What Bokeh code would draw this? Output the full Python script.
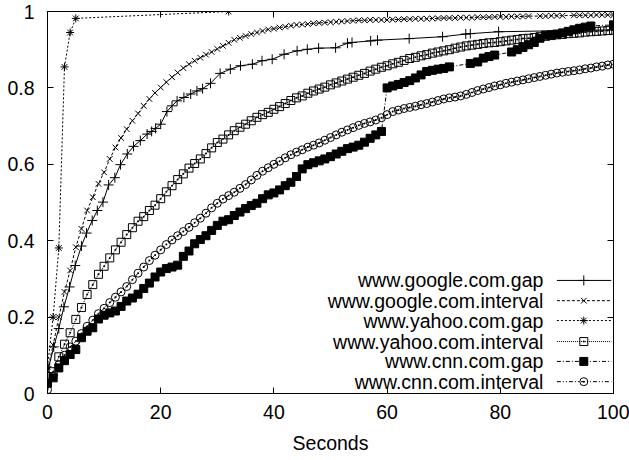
from bokeh.plotting import figure
from bokeh.models import Range1d, FixedTicker, LinearAxis
from bokeh.embed import file_html
from bokeh.resources import INLINE
from bokeh.core.properties import value

# ---------------- data ----------------
x_ticks = [0, 20, 40, 60, 80, 100]
x_tick_labels = ["0", "20", "40", "60", "80", "100"]
y_ticks = [0, 0.2, 0.4, 0.6, 0.8, 1]
y_tick_labels = ["0", "0.2", "0.4", "0.6", "0.8", "1"]
x_label = "Seconds"

series_names = ["www.google.com.gap", "www.google.com.interval", "www.yahoo.com.gap",
                "www.yahoo.com.interval", "www.cnn.com.gap", "www.cnn.com.interval"]

google_gap_x = [0, 1.1, 2, 2.9, 3.9, 4.9, 6, 6.9, 7.9, 8.8,
                9.8, 10.8, 11.9, 12.9, 14.1, 15.2, 16.4, 17.6, 18.4, 19.1,
                20, 21.1, 22, 22.9, 24.1, 25.3, 26.4, 27.4, 28.8, 30.5,
                32.3, 34.1, 36.2, 37.9, 39.7, 41.8, 44.1, 45.9, 47.9, 50.9,
                53, 53.8, 57.1, 58.3, 63.9, 69.8, 73.9, 74.7, 79.7, 100]
google_gap_y = [0.055, 0.122, 0.170, 0.227, 0.279, 0.335, 0.386, 0.420, 0.453, 0.479,
                0.501, 0.546, 0.565, 0.599, 0.627, 0.647, 0.662, 0.679, 0.686, 0.694,
                0.705, 0.738, 0.753, 0.766, 0.775, 0.784, 0.792, 0.798, 0.812, 0.838,
                0.849, 0.858, 0.862, 0.871, 0.875, 0.888, 0.897, 0.901, 0.904, 0.905,
                0.917, 0.919, 0.923, 0.925, 0.929, 0.934, 0.941, 0.942, 0.947, 0.952]

google_interval_x = [s for s in range(101) if s not in (86, 92)]
google_interval_y = [0.061, 0.127, 0.200, 0.266, 0.322, 0.383, 0.431, 0.479, 0.514, 0.549,
                     0.579, 0.614, 0.644, 0.669, 0.692, 0.714, 0.733, 0.753, 0.771, 0.787,
                     0.801, 0.815, 0.828, 0.840, 0.852, 0.862, 0.871, 0.879, 0.887, 0.894,
                     0.902, 0.910, 0.918, 0.926, 0.931, 0.936, 0.941, 0.945, 0.949, 0.953,
                     0.955, 0.958, 0.960, 0.963, 0.965, 0.966, 0.967, 0.969, 0.970, 0.971,
                     0.972, 0.973, 0.974, 0.975, 0.976, 0.977, 0.977, 0.978, 0.978, 0.978,
                     0.978, 0.979, 0.979, 0.980, 0.980, 0.981, 0.981, 0.981, 0.982, 0.982,
                     0.983, 0.983, 0.983, 0.984, 0.984, 0.984, 0.985, 0.985, 0.985, 0.986,
                     0.986, 0.986, 0.987, 0.987, 0.987, 0.988, 0.988, 0.988, 0.989,
                     0.989, 0.989, 0.990, 0.990, 0.990, 0.990, 0.991, 0.991, 0.991, 0.991]

yahoo_gap_x = [0, 1, 2, 3, 4, 5, 32]
yahoo_gap_y = [0.070, 0.200, 0.381, 0.855, 0.945, 0.982, 1.0]

yahoo_interval_x = list(range(101))
yahoo_interval_y = [0.030, 0.057, 0.096, 0.129, 0.159, 0.194, 0.225, 0.259, 0.285, 0.312,
                    0.333, 0.355, 0.376, 0.396, 0.416, 0.434, 0.451, 0.463, 0.479, 0.493,
                    0.510, 0.528, 0.544, 0.560, 0.575, 0.590, 0.602, 0.614, 0.628, 0.643,
                    0.657, 0.666, 0.677, 0.688, 0.697, 0.705, 0.714, 0.723, 0.730, 0.736,
                    0.744, 0.751, 0.759, 0.767, 0.774, 0.779, 0.786, 0.792, 0.797, 0.802,
                    0.808, 0.813, 0.818, 0.823, 0.828, 0.833, 0.838, 0.844, 0.849, 0.854,
                    0.858, 0.863, 0.867, 0.872, 0.877, 0.880, 0.884, 0.887, 0.891, 0.894,
                    0.897, 0.900, 0.904, 0.907, 0.910, 0.912, 0.914, 0.916, 0.918, 0.919,
                    0.921, 0.923, 0.925, 0.927, 0.929, 0.930, 0.932, 0.934, 0.935, 0.937,
                    0.939, 0.940, 0.942, 0.943, 0.944, 0.946, 0.947, 0.948, 0.949, 0.950,
                    0.951]

cnn_gap_x = [0, 1, 2, 3, 4, 5, 6, 7, 8, 9,
             10, 11, 12, 13, 14, 15, 16, 17, 18, 19,
             20, 21, 22, 23, 24, 25, 26, 27, 28, 29,
             30, 31, 32, 33, 34, 35, 36, 37, 38, 39,
             40, 41, 42, 43, 44, 45, 46, 47, 48, 49,
             50, 51, 52, 53, 54, 55, 56, 57, 58, 59,
             60, 61, 62, 63, 64, 65, 66, 67, 68, 69,
             70, 71, 74.7, 76, 77, 78, 79, 82, 83, 84,
             85, 86, 87, 88, 89, 90, 91, 92, 93, 94,
             95, 96, 100]
cnn_gap_y = [0.027, 0.041, 0.067, 0.086, 0.102, 0.115, 0.146, 0.163, 0.172, 0.195,
             0.205, 0.211, 0.216, 0.228, 0.242, 0.250, 0.260, 0.275, 0.289, 0.305,
             0.318, 0.327, 0.331, 0.336, 0.359, 0.373, 0.392, 0.403, 0.413, 0.427,
             0.440, 0.451, 0.455, 0.466, 0.475, 0.484, 0.492, 0.498, 0.510, 0.520,
             0.525, 0.533, 0.544, 0.553, 0.568, 0.588, 0.599, 0.604, 0.609, 0.614,
             0.620, 0.627, 0.634, 0.641, 0.645, 0.650, 0.658, 0.668, 0.677, 0.686,
             0.800, 0.805, 0.809, 0.814, 0.819, 0.826, 0.834, 0.843, 0.846, 0.849,
             0.851, 0.855, 0.864, 0.868, 0.878, 0.882, 0.886, 0.894, 0.900, 0.906,
             0.913, 0.919, 0.930, 0.938, 0.939, 0.941, 0.944, 0.948, 0.952, 0.956,
             0.959, 0.962, 0.965]

cnn_interval_x = list(range(101))
cnn_interval_y = [0.010, 0.045, 0.075, 0.100, 0.122, 0.137, 0.157, 0.176, 0.192, 0.209,
                  0.223, 0.238, 0.252, 0.266, 0.280, 0.298, 0.315, 0.331, 0.348, 0.362,
                  0.376, 0.390, 0.402, 0.413, 0.424, 0.435, 0.447, 0.459, 0.472, 0.486,
                  0.498, 0.509, 0.518, 0.527, 0.537, 0.547, 0.559, 0.571, 0.582, 0.591,
                  0.600, 0.608, 0.617, 0.625, 0.632, 0.638, 0.645, 0.650, 0.656, 0.663,
                  0.670, 0.677, 0.684, 0.690, 0.696, 0.702, 0.707, 0.711, 0.716, 0.722,
                  0.730, 0.738, 0.742, 0.746, 0.749, 0.752, 0.756, 0.759, 0.763, 0.767,
                  0.771, 0.774, 0.776, 0.779, 0.783, 0.788, 0.793, 0.797, 0.801, 0.805,
                  0.808, 0.812, 0.815, 0.818, 0.821, 0.824, 0.827, 0.830, 0.833, 0.836,
                  0.839, 0.841, 0.843, 0.845, 0.847, 0.850, 0.852, 0.855, 0.857, 0.860,
                  0.862]

# ---------------- styling ----------------
FONT = "Liberation Sans"
FS = "19.5px"

styles = [
    dict(dash="solid", marker="cross", size=10, fill=None),
    dict(dash="3 2", marker="x", size=8, fill=None),
    dict(dash="2 2", marker="asterisk", size=8, fill=None),
    dict(dash="1 1", marker="square_dot", size=8, fill=None),
    dict(dash="4 2 1 2", marker="square", size=8, fill="black"),
    dict(dash="4 2 1 2 1 2", marker="circle_dot", size=8, fill=None),
]
data = [(google_gap_x, google_gap_y), (google_interval_x, google_interval_y),
        (yahoo_gap_x, yahoo_gap_y), (yahoo_interval_x, yahoo_interval_y),
        (cnn_gap_x, cnn_gap_y), (cnn_interval_x, cnn_interval_y)]

p = figure(width=629, height=460, output_backend="svg", toolbar_location=None,
           x_range=Range1d(0, 100), y_range=Range1d(0, 1),
           min_border_left=47, min_border_right=16, min_border_top=11, min_border_bottom=67)
p.xgrid.grid_line_color = None
p.ygrid.grid_line_color = None
p.outline_line_color = "black"
p.outline_line_width = 1
p.background_fill_color = "white"
p.border_fill_color = "white"

p.add_layout(LinearAxis(), "above")
p.add_layout(LinearAxis(), "right")

for ax in p.xaxis:
    ax.ticker = FixedTicker(ticks=x_ticks)
    ax.major_label_overrides = dict(zip(x_ticks, x_tick_labels))
for ax in p.yaxis:
    ax.ticker = FixedTicker(ticks=y_ticks)
    ax.major_label_overrides = dict(zip(y_ticks, y_tick_labels))

for ax in p.axis:
    ax.major_tick_in = 6
    ax.major_tick_out = 0
    ax.minor_tick_line_color = None
    ax.axis_line_color = "black"
    ax.major_tick_line_color = "black"
    ax.major_label_text_font = FONT
    ax.major_label_text_font_size = FS
    ax.major_label_text_color = "black"

# mirror axes: ticks only, no labels
for ax in (p.above[0], p.right[0]):
    ticks = x_ticks if ax in p.above else y_ticks
    ax.major_label_overrides = {t: "" for t in ticks}
    ax.major_label_text_color = None
    ax.major_label_text_alpha = 0
    ax.major_label_text_font_size = "0px"
    ax.major_label_standoff = 0

p.left[0].major_label_standoff = 13
p.below[0].major_label_standoff = 11
p.below[0].axis_label = x_label
p.below[0].axis_label_text_font = FONT
p.below[0].axis_label_text_font_size = FS
p.below[0].axis_label_text_font_style = "normal"
p.below[0].axis_label_text_color = "black"
p.below[0].axis_label_standoff = 10

for (xs, ys), st in zip(data, styles):
    p.line(xs, ys, line_color="black", line_width=1, line_dash=st["dash"])
    p.scatter(xs, ys, marker=st["marker"], size=st["size"], line_color="black",
              fill_color=st["fill"], line_width=1)

# ---------------- legend (gnuplot style: text left, sample right) ----------------
leg_rows = [0.296, 0.243, 0.191, 0.136, 0.084, 0.031]
leg_text_x = 87.6
leg_x0, leg_x1, leg_xm = 90.0, 99.6, 94.75
p.text(x=[leg_text_x] * len(series_names), y=leg_rows, text=series_names,
       text_align="right", text_baseline="middle", text_font=value(FONT),
       text_font_size=FS, text_color="black")
for yy, st in zip(leg_rows, styles):
    p.line([leg_x0, leg_x1], [yy, yy], line_color="black", line_width=1, line_dash=st["dash"])
    p.scatter([leg_xm], [yy], marker=st["marker"], size=st["size"], line_color="black",
              fill_color=st["fill"], line_width=1)

open("out.html", "w").write(file_html(p, INLINE))
